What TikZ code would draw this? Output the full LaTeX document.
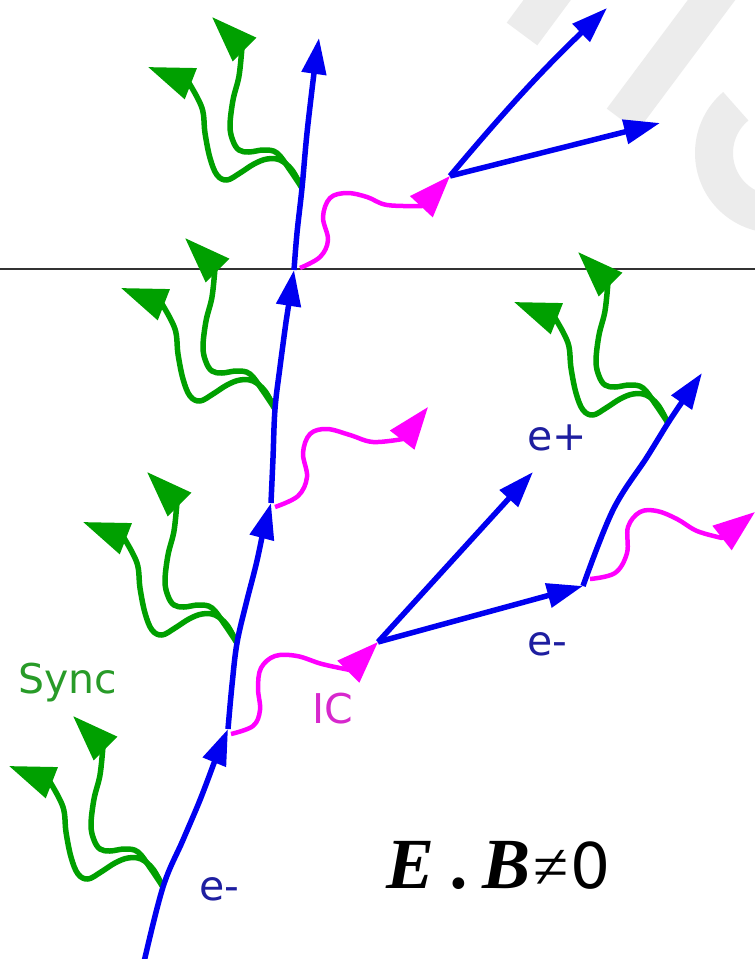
\documentclass[tikz,border=0pt]{standalone}
\usepackage{fontspec}
\newfontfamily\djv{DejaVu Sans}
\newfontfamily\tnr{Liberation Serif}
\usetikzlibrary{arrows.meta}
\definecolor{eblue}{RGB}{0,0,240}
\definecolor{sgreen}{RGB}{0,160,0}
\definecolor{icmag}{RGB}{255,0,255}
\definecolor{lblue}{RGB}{30,30,160}
\definecolor{lgreen}{RGB}{40,155,40}
\definecolor{lmag}{RGB}{215,40,205}
\definecolor{wmgrey}{RGB}{236,236,236}
\definecolor{hlgrey}{RGB}{50,50,50}
\tikzset{
  etrack/.style={draw=eblue, line width=5.5pt, -{Triangle[length=36pt,width=24pt]}},
  synl/.style={draw=sgreen, line width=5.5pt, line join=round, -{Triangle[length=46pt,width=32pt]}},
  icl/.style={draw=icmag, line width=4.5pt, line join=round, -{Triangle[length=42pt,width=30pt]}},
  wm/.style={draw=wmgrey, line width=38pt},
  hline/.style={draw=hlgrey, line width=1.8pt},
  lab/.style={inner sep=0pt, anchor=base west, font=\djv\fontsize{41}{48}\selectfont},
  syncpair/.pic={
    \draw[synl] plot[smooth,tension=0.6] coordinates {(0,0) (-10,-18) (-22,-28) (-35,-29) (-48,-24) (-62,-15) (-75,-8) (-85,-13) (-92,-30) (-97,-55) (-100,-80) (-113,-105)} -- (-154,-121);
    \draw[synl] plot[smooth,tension=0.6] coordinates {(0,0) (-12,-18) (-25,-35) (-38,-38) (-53,-36) (-63,-38) (-69,-47) (-72,-62) (-69,-88) (-63,-112) (-60,-141)} -- (-90,-171);
  }
}
\begin{document}
\begin{tikzpicture}[x=1pt,y=-1pt]
\useasboundingbox (0,0) rectangle (755,959);
\fill[white] (0,0) rectangle (755,959);
% watermark
\begin{scope}
\clip (0,0) rectangle (755,959);
\draw[wm] (522,34) -- (562,-20);
\draw[wm] (622,120) -- (722,-14);
\draw[wm] plot[domain=130:275,samples=50] ({775+61*cos(\x)},{153-61*sin(\x)});
\end{scope}
% horizontal line
\coordinate (hl) at (0,269);
\coordinate (hr) at (755,269);
\draw[hline] (hl) -- (hr);
% key points
\coordinate (t0) at (144,962);
\coordinate (s1) at (163,887);
\coordinate (a1) at (228,729);
\coordinate (s2) at (237,643);
\coordinate (a2) at (271,503);
\coordinate (s3) at (275,409);
\coordinate (a3) at (294,270);
\coordinate (s4) at (302,188);
\coordinate (a4) at (319,38);
\coordinate (v1) at (450,176);
\coordinate (p1u) at (607,8);
\coordinate (p1d) at (660,123);
\coordinate (v2) at (378,642);
\coordinate (p2u) at (533,472);
\coordinate (v3) at (583,586);
\coordinate (s5) at (668,423);
\coordinate (a5) at (702,373);
\coordinate (i1) at (231,734);
\coordinate (i2) at (275,507);
\coordinate (i2t) at (428,407);
\coordinate (i3) at (300,268);
\coordinate (i4) at (590,579);
\coordinate (i4t) at (755,512);
% synchrotron photons
\pic (sy1) at (s1) {syncpair};
\pic (sy2) at (s2) {syncpair};
\pic (sy3) at (s3) {syncpair};
\pic (sy4) at (s4) {syncpair};
\pic (sy5) at (s5) {syncpair};
% inverse Compton photons
\draw[icl] plot[smooth,tension=0.6] coordinates {(i1) (253,726) (260,710) (258,688) (261,668) (275,656) (297,656) (322,664) (350,670)} -- (v2);
\draw[icl] plot[smooth,tension=0.6] coordinates {(i2) (298,496) (307,477) (303,453) (310,434) (327,429) (350,435) (373,442) (403,439)} -- (i2t);
\draw[icl] plot[smooth,tension=0.6] coordinates {(i3) (320,257) (328,240) (323,217) (330,198) (347,193) (367,197) (387,205) (422,206)} -- (v1);
\draw[icl] plot[smooth,tension=0.6] coordinates {(i4) (615,573) (627,553) (628,527) (640,512) (657,511) (677,519) (697,531) (722,538)} -- (i4t);
% electron / positron tracks
\draw[etrack] plot[smooth,tension=0.6] coordinates {(t0) (s1) (183,840) (200,800) (214,763)} -- (a1);
\draw[etrack] plot[smooth,tension=0.6] coordinates {(a1) (232,685) (s2) (246,604) (256,565) (262,537)} -- (a2);
\draw[etrack] plot[smooth,tension=0.6] coordinates {(a2) (273,458) (s3) (280,367) (286,322)} -- (a3);
\draw[etrack] plot[smooth,tension=0.6] coordinates {(a3) (297,233) (s4) (307,133) (314,73)} -- (a4);
\draw[etrack] (v1) to[bend left=3] (p1u);
\draw[etrack] (v1) -- (p1d);
\draw[etrack] (v2) -- (p2u);
\draw[etrack] (v2) -- (v3);
\draw[etrack] plot[smooth,tension=0.6] coordinates {(v3) (613,510) (647,457) (s5) (682,402)} -- (a5);
% labels
\node[lab, text=lgreen] (sync) at (18,693) {Sync};
\node[lab, text=lmag] (ic) at (312,723) {IC};
\node[lab, text=lblue] (ep) at (527,450) {e+};
\node[lab, text=lblue] (em1) at (527,655) {e-};
\node[lab, text=lblue] (em0) at (199,900) {e-};
\node[anchor=base west, inner sep=0pt] (eb) at (386,888) {\tnr\bfseries\itshape\fontsize{72}{80}\selectfont E\kern18pt.\kern12pt B\kern3pt{\mdseries\upshape\fontsize{64}{70}\selectfont ≠}\kern2pt{\djv\mdseries\upshape\fontsize{63}{70}\selectfont 0}};
\end{tikzpicture}
\end{document}
